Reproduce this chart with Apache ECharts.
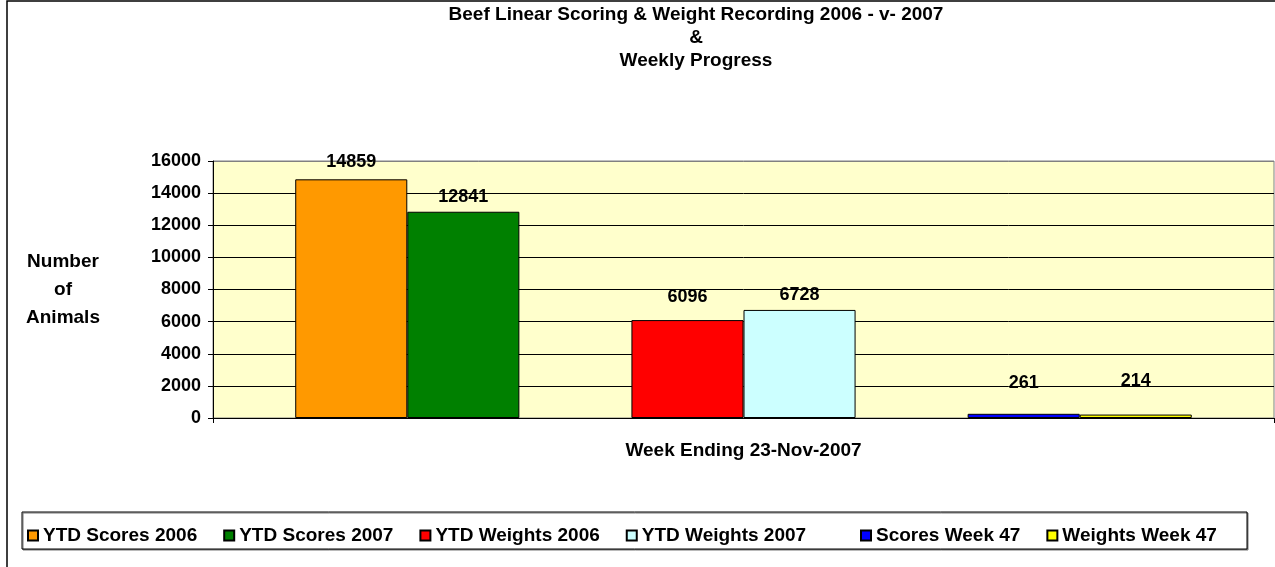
<!DOCTYPE html>
<html>
<head>
<meta charset="utf-8">
<script src="https://cdn.jsdelivr.net/npm/echarts@6/dist/echarts.min.js"></script>
<style>
  html, body { margin: 0; padding: 0; background: #fff; }
  #chart { width: 1275px; height: 567px; }
</style>
</head>
<body>
<div id="chart"></div>
<script>
// data
var categories = ['Week Ending 23-Nov-2007'];
var seriesNames = ['YTD Scores 2006', 'YTD Scores 2007', '', 'YTD Weights 2006', 'YTD Weights 2007', ' ', 'Scores Week 47', 'Weights Week 47'];
var seriesValues = [14859, 12841, null, 6096, 6728, null, 261, 214];
var seriesColors = ['#FF9900', '#008000', '#fff', '#FF0000', '#CCFFFF', '#fff', '#0000FF', '#FFFF00'];
var labelDist = [8, 6, 0, 14, 6, 0, 22, 25];
var yTicks = { min: 0, max: 16000, interval: 2000 };

var chart = echarts.init(document.getElementById('chart'));

var font = 'Liberation Sans, Arial, sans-serif';

var series = seriesNames.map(function (name, i) {
  return {
    name: name,
    type: 'bar',
    barGap: 0,
    barCategoryGap: '15.5%',
    data: [seriesValues[i]],
    itemStyle: { color: seriesColors[i], borderColor: '#000', borderWidth: 1 },
    label: {
      show: seriesValues[i] !== null,
      position: 'top',
      distance: labelDist[i],
      color: '#000',
      fontFamily: font,
      fontWeight: 'bold',
      fontSize: 18
    }
  };
});

var legendText = { color: '#000', fontFamily: font, fontWeight: 'bold', fontSize: 19 };

chart.setOption({
  animation: false,
  title: {
    text: 'Beef Linear Scoring & Weight Recording 2006 - v- 2007\n&\nWeekly Progress',
    left: 691,
    top: -2,
    textAlign: 'center',
    textStyle: { color: '#000', fontFamily: font, fontWeight: 'bold', fontSize: 19, lineHeight: 23 }
  },
  graphic: [
    { type: 'rect', shape: { x: 7, y: 1, width: 1290, height: 600 }, style: { fill: null, stroke: '#000', lineWidth: 1.5 }, silent: true },
    { type: 'rect', shape: { x: 22, y: 512, width: 1225, height: 37 }, style: { fill: '#fff', stroke: '#000', lineWidth: 1, shadowColor: '#777', shadowOffsetX: 1, shadowOffsetY: 1 }, silent: true, z: -1 }
  ],
  legend: [
    {
      data: seriesNames.slice(0, 2).concat(seriesNames.slice(3, 5)),
      left: 22, top: 521, itemWidth: 10, itemHeight: 10, itemGap: 26,
      icon: 'rect', textStyle: legendText
    },
    {
      data: seriesNames.slice(6),
      left: 855, top: 521, itemWidth: 10, itemHeight: 10, itemGap: 26,
      icon: 'rect', textStyle: legendText
    }
  ],
  grid: {
    left: 213, top: 161, right: 1, bottom: 149,
    show: true, backgroundColor: '#FFFFCC', borderColor: '#808080', borderWidth: 1
  },
  xAxis: {
    type: 'category',
    data: categories,
    axisLine: { lineStyle: { color: '#000' } },
    axisTick: { show: true, length: 5, lineStyle: { color: '#000' } },
    axisLabel: { margin: 23, color: '#000', fontFamily: font, fontWeight: 'bold', fontSize: 19 }
  },
  yAxis: {
    type: 'value',
    min: yTicks.min, max: yTicks.max, interval: yTicks.interval,
    name: 'Number\nof\nAnimals',
    nameLocation: 'middle',
    nameGap: 150,
    nameRotate: 0,
    nameTextStyle: { color: '#000', fontFamily: font, fontWeight: 'bold', fontSize: 19, lineHeight: 28, align: 'center', padding: [0, 0, 18, 0] },
    axisLine: { show: true, lineStyle: { color: '#000' } },
    axisTick: { show: true, length: 5, lineStyle: { color: '#000' } },
    axisLabel: {
      margin: 12, color: '#000', fontFamily: font, fontWeight: 'bold', fontSize: 18,
      formatter: function (v) { return String(v); }
    },
    splitLine: { lineStyle: { color: ['#000', '#000', '#000', '#000', '#000', '#000', '#000', '#000', '#808080'] } }
  },
  series: series
});
</script>
</body>
</html>
